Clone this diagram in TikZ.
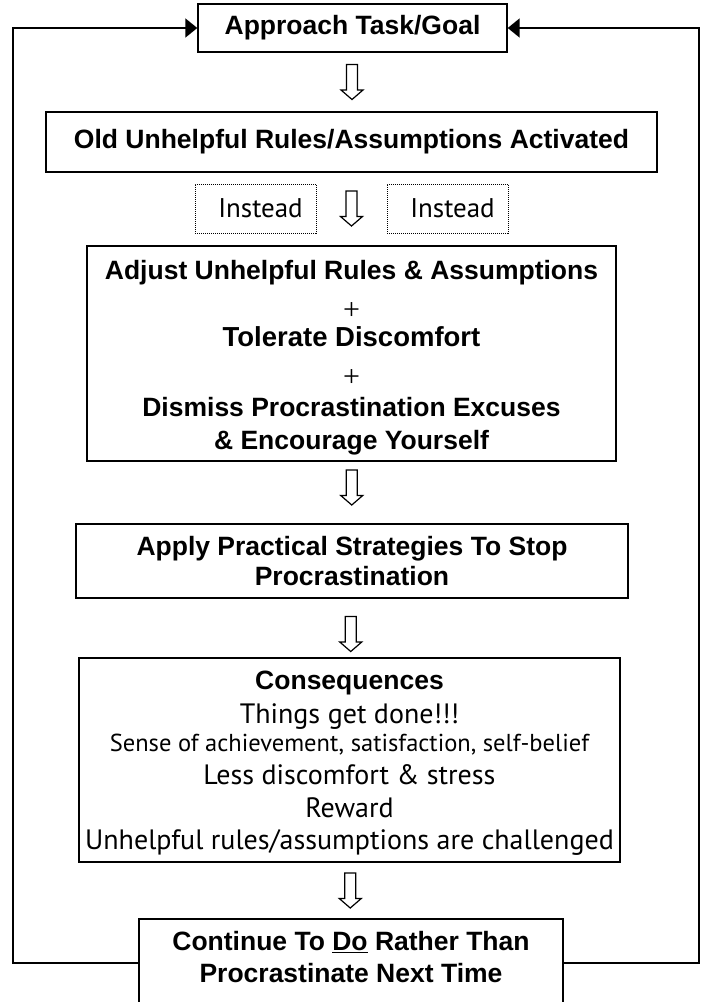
\documentclass[tikz,border=0pt]{standalone}
\usepackage{fontspec}
\setmainfont{Liberation Sans}
\newfontfamily\trfont{PT Sans}
\newfontfamily\tmfont{Liberation Serif}
\newcommand\plainT{\trfont\mdseries\fontsize{28}{32}\selectfont}
\newcommand\plusT{{\tmfont\mdseries\fontsize{30}{32}\selectfont +}}
\usetikzlibrary{arrows.meta,calc}
\begin{document}
\begin{tikzpicture}[x=1pt,y=-1pt,
  box/.style={draw, line width=1.4pt, inner sep=0pt, align=center,
    font=\bfseries\fontsize{26.5}{32}\selectfont},
  dotbox/.style={draw, line width=1pt, dash pattern=on 1pt off 1pt, inner sep=0pt,
    font=\trfont\fontsize{27}{32}\selectfont},
  backline/.style={line width=1.8pt},
  tipT/.style={-{Triangle[length=12pt,width=19pt]}},
  hollow/.pic={\draw[line width=1.2pt, line join=miter]
    (-5.5,-17.5) -- (5.5,-17.5) -- (5.5,8) -- (11,8) -- (0,17.5) -- (-11,8) -- (-5.5,8) -- cycle;}
]
\useasboundingbox (0,0) rectangle (705,1002);
\clip (0,0) rectangle (705,1002);

\node[box, minimum width=309, minimum height=48] (app) at (352.5,28) {Approach Task/Goal};
\node[box, minimum width=611, minimum height=60] (old) at (351.5,142) {Old Unhelpful Rules/Assumptions Activated};
\node[dotbox, minimum width=121, minimum height=49] (ins1) at (255.5,208.5) {\hspace*{10pt}Instead};
\node[dotbox, minimum width=121, minimum height=49] (ins2) at (447.5,208.5) {\hspace*{10pt}Instead};
\node[box, minimum width=529, minimum height=215] (adj) at (351.5,353.5)
  {\rule{0pt}{27pt}Adjust Unhelpful Rules \& Assumptions\\[8pt]
   \plusT\\[-5pt]
   {\fontsize{27.5}{32}\selectfont Tolerate Discomfort}\\[8pt]
   \plusT\\[-2pt]
   Dismiss Procrastination Excuses\\[1pt]
   \& Encourage Yourself};
\node[box, minimum width=552, minimum height=74] (prac) at (352,561)
  {Apply Practical Strategies To Stop\\[-2pt] Procrastination};
\node[box, minimum width=541, minimum height=204] (cons) at (349.5,760)
  {\rule{0pt}{25.5pt}Consequences\\[2pt]
   {\plainT Things get done!!!}\\[-4pt]
   {\trfont\mdseries\fontsize{24.5}{32}\selectfont Sense of achievement, satisfaction, self-belief}\\[1pt]
   {\plainT Less discomfort \& stress}\\[1pt]
   {\plainT Reward}\\[0pt]
   {\plainT Unhelpful rules/assumptions are challenged}};
\node[box, minimum width=424, minimum height=88, text depth=13pt] (cont) at (351,963)
  {Continue To \underline{Do} Rather Than\\ Procrastinate Next Time};

\coordinate (LB) at (13,963);
\coordinate (RB) at (699,963);
\draw[backline, tipT] (cont.west) -- (LB) |- (app.west);
\draw[backline, tipT] (cont.east) -- (RB) |- (app.east);

\pic at ($(app.south)!0.5!(old.north)$) {hollow};
\pic at ($(ins1.east)!0.5!(ins2.west)$) {hollow};
\pic at ($(adj.south)!0.5!(prac.north)+(0,-5)$) {hollow};
\pic at ($(prac.south)!0.5!(cons.north)+(0,6)$) {hollow};
\pic at ($(cons.south)!0.5!(cont.north)$) {hollow};
\end{tikzpicture}
\end{document}
